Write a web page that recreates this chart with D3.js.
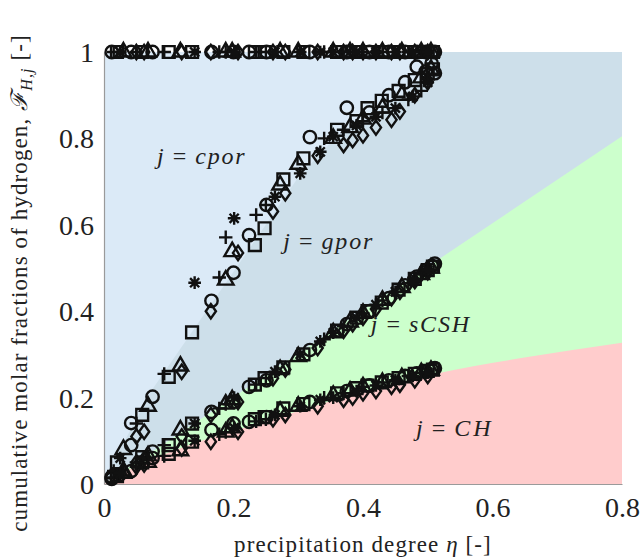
<!DOCTYPE html>
<html><head><meta charset="utf-8">
<script src="https://cdn.jsdelivr.net/npm/d3@7"></script>
<style>
html,body{margin:0;padding:0;background:#fff;}
svg{display:block;}
text{font-family:"Liberation Serif","DejaVu Serif",serif;fill:#222;}
</style></head>
<body>
<div id="chart"></div>
<script>
// ---- data ----
const xTicks = [0, 0.2, 0.4, 0.6, 0.8];
const xTickLabels = ["0", "0.2", "0.4", "0.6", "0.8"];
const yTicks = [0, 0.2, 0.4, 0.6, 0.8, 1];
const yTickLabels = ["0", "0.2", "0.4", "0.6", "0.8", "1"];
const topValue = 1;

// region boundaries [eta, F]
const upperBoundary = [[0,0],[0.005,0.025],[0.075,0.22],[0.216,0.526],[0.3,0.71],[0.35,0.79],[0.42,0.86],[0.48,0.92],[0.515,1.0],[0.8,1.0]];
const middleBoundary = [[0,0],[0.8,0.805]];
const lowerBoundary = [[0,0],[0.05,0.042],[0.118,0.083],[0.247,0.144],[0.38,0.205],[0.514,0.256],[0.642,0.291],[0.8,0.327]];

// series: [eta, F_CH, F_CH+sCSH, F_CH+sCSH+gpor]
const circleData = [
 [0.012,0.012,0.014,0.017],[0.042,0.03,0.09,0.141],[0.075,0.06,0.075,0.202],[0.166,0.125,0.167,0.424],
 [0.2,0.14,0.19,0.489],[0.224,0.144,0.225,0.576],[0.251,0.155,0.24,0.646],[0.318,0.19,0.31,0.803],
 [0.375,0.215,0.37,0.871],[0.41,0.228,0.40,0.86],[0.44,0.24,0.43,0.90],[0.465,0.25,0.46,0.93],
 [0.483,0.256,0.48,0.966],[0.497,0.26,0.495,0.955],[0.506,0.265,0.505,0.974],[0.511,0.268,0.51,0.951]
];
const squareData = [
 [0.02,0.018,0.02,0.05],[0.059,0.05,0.062,0.16],[0.1,0.07,0.09,0.248],[0.136,0.098,0.14,0.351],
 [0.233,0.15,0.23,0.553],[0.248,0.155,0.245,0.592],[0.277,0.175,0.27,0.705],[0.308,0.185,0.30,0.754],
 [0.36,0.21,0.355,0.82],[0.39,0.222,0.385,0.84],[0.407,0.228,0.40,0.870],[0.429,0.235,0.42,0.887],
 [0.455,0.245,0.45,0.91],[0.48,0.255,0.475,0.935],[0.5,0.262,0.495,0.95],[0.508,0.265,0.503,0.96]
];
const triangleData = [
 [0.03,0.025,0.03,0.08],[0.068,0.05,0.065,0.18],[0.118,0.077,0.125,0.273],[0.188,0.12,0.185,0.472],
 [0.198,0.13,0.195,0.538],[0.272,0.168,0.265,0.692],[0.3,0.18,0.295,0.74],[0.354,0.205,0.35,0.80],
 [0.38,0.215,0.375,0.825],[0.4,0.225,0.395,0.845],[0.43,0.235,0.425,0.87],[0.46,0.246,0.455,0.90],
 [0.49,0.258,0.485,0.94],[0.505,0.263,0.50,0.96]
];
const diamondData = [
 [0.05,0.04,0.05,0.11],[0.062,0.045,0.058,0.121],[0.12,0.082,0.11,0.26],[0.165,0.098,0.16,0.40],
 [0.207,0.121,0.19,0.535],[0.261,0.15,0.245,0.631],[0.28,0.16,0.265,0.673],[0.33,0.18,0.315,0.76],
 [0.37,0.195,0.355,0.785],[0.384,0.2,0.37,0.796],[0.40,0.21,0.385,0.807],[0.42,0.215,0.405,0.825],
 [0.444,0.225,0.43,0.843],[0.457,0.23,0.445,0.862],[0.48,0.24,0.47,0.90],[0.5,0.25,0.49,0.93]
];
const plusData = [
 [0.015,0.013,0.015,0.03],[0.05,0.04,0.05,0.14],[0.093,0.065,0.09,0.255],[0.178,0.115,0.175,0.478],
 [0.188,0.12,0.185,0.571],[0.235,0.145,0.23,0.623],[0.25,0.15,0.245,0.646],[0.34,0.2,0.335,0.80],
 [0.37,0.21,0.365,0.82],[0.4,0.225,0.395,0.84],[0.43,0.235,0.425,0.86],[0.47,0.25,0.465,0.89],
 [0.49,0.257,0.485,0.91]
];
const starData = [
 [0.025,0.02,0.025,0.06],[0.14,0.1,0.14,0.466],[0.201,0.13,0.2,0.615],[0.264,0.16,0.26,0.665],
 [0.303,0.18,0.3,0.719],[0.334,0.195,0.33,0.769],[0.354,0.2,0.35,0.804],[0.39,0.215,0.385,0.83],
 [0.42,0.228,0.415,0.85],[0.45,0.24,0.445,0.87],[0.477,0.25,0.47,0.897],[0.5,0.258,0.495,0.93]
];

const regionLabels = [
 {j:"cpor", x:0.082, y:0.74},
 {j:"gpor", x:0.277, y:0.543},
 {j:"sCSH", x:0.412, y:0.352},
 {j:"CH", x:0.482, y:0.11}
];

// ---- drawing ----
const W = 642, H = 558;
const svg = d3.select("#chart").append("svg").attr("width", W).attr("height", H);
const x = d3.scaleLinear().domain([0, 0.8]).range([104, 622]);
const y = d3.scaleLinear().domain([0, 1]).range([484, 52]);

const area = d3.area().x(d => x(d[0])).y0(y(0)).y1(d => y(d[1]));
svg.append("path").attr("d", area([[0,1],[0.8,1]])).attr("fill", "#dbeaf7");
svg.append("path").attr("d", area(upperBoundary)).attr("fill", "#cddfea");
svg.append("path").attr("d", area(middleBoundary)).attr("fill", "#ccffcc");
svg.append("path").attr("d", area.curve(d3.curveMonotoneX)(lowerBoundary)).attr("fill", "#ffcccc");

// axes
const fs = 28;
const ax = svg.append("g").attr("transform", `translate(0,${y(0)})`)
  .call(d3.axisBottom(x).tickValues(xTicks).tickFormat((d,i) => xTickLabels[i]).tickSize(0).tickPadding(13));
const ay = svg.append("g").attr("transform", `translate(${x(0)},0)`)
  .call(d3.axisLeft(y).tickValues(yTicks).tickFormat((d,i) => yTickLabels[i]).tickSize(0).tickPadding(10));
[ax, ay].forEach(g => {
  g.select(".domain").attr("stroke", "#9a9a9a").attr("stroke-width", 1.2);
  g.selectAll("text").attr("font-size", fs).attr("font-family", '"Liberation Serif",serif').attr("fill", "#222");
});
ay.selectAll("text").attr("dy", "0.34em");

// markers
const R = 6.2;
const plusSym = { draw(ctx, size) { const r = Math.sqrt(size) / 2; ctx.moveTo(-r,0); ctx.lineTo(r,0); ctx.moveTo(0,-r); ctx.lineTo(0,r); } };
const starSym = { draw(ctx, size) { const r = Math.sqrt(size) / 2; const d = r*0.72;
  ctx.moveTo(-r,0); ctx.lineTo(r,0); ctx.moveTo(0,-r); ctx.lineTo(0,r);
  ctx.moveTo(-d,-d); ctx.lineTo(d,d); ctx.moveTo(-d,d); ctx.lineTo(d,-d); } };
const diamondSym = { draw(ctx, size) { const w = Math.sqrt(size)/2*0.78, h = Math.sqrt(size)/2*1.1;
  ctx.moveTo(0,-h); ctx.lineTo(w,0); ctx.lineTo(0,h); ctx.lineTo(-w,0); ctx.closePath(); } };
const series = [
  {data: circleData, sym: d3.symbol(d3.symbolCircle, Math.PI*R*R)},
  {data: squareData, sym: d3.symbol(d3.symbolSquare, 140)},
  {data: triangleData, sym: d3.symbol(d3.symbolTriangle, 105)},
  {data: diamondData, sym: d3.symbol(diamondSym, 170)},
  {data: plusData, sym: d3.symbol(plusSym, 180)},
  {data: starData, sym: d3.symbol(starSym, 160)}
];
const mg = svg.append("g");
series.forEach(s => {
  [1,2,3].forEach(k => {
    mg.append("g").selectAll("path").data(s.data).join("path")
      .attr("d", s.sym)
      .attr("transform", d => `translate(${x(d[0])},${y(d[k])})`)
      .attr("fill", "none").attr("stroke", "#111").attr("stroke-width", 2.4);
  });
  mg.append("g").selectAll("path").data(s.data).join("path")
    .attr("d", s.sym)
    .attr("transform", d => `translate(${x(d[0])},${y(topValue)})`)
    .attr("fill", "none").attr("stroke", "#111").attr("stroke-width", 2.4);
});

// region labels
regionLabels.forEach(r => {
  const t = svg.append("text").attr("x", x(r.x)).attr("y", y(r.y)).attr("font-size", 24);
  t.append("tspan").attr("font-style", "italic").text("j");
  t.append("tspan").attr("dx", 9).text("=");
  t.append("tspan").attr("dx", 9).attr("font-style", "italic").attr("letter-spacing", r.j.length > 2 ? 1.8 : 3).text(r.j);
});

// axis titles
svg.append("text").attr("x", 363).attr("y", 552).attr("text-anchor", "middle").attr("font-size", 23).attr("letter-spacing", 1.1)
  .call(t => { t.append("tspan").text("precipitation degree "); t.append("tspan").attr("font-style","italic").text("η"); t.append("tspan").text(" [-]"); });
const yt = svg.append("text").attr("transform", "translate(27,283) rotate(-90)").attr("text-anchor", "middle").attr("font-size", 23).attr("letter-spacing", 1.1);
yt.append("tspan").text("cumulative molar fractions of hydrogen, ");
yt.append("tspan").attr("font-style","italic").text("ℱ");
yt.append("tspan").attr("font-style","italic").attr("font-size", 16).attr("dy", 5).text("H,j");
yt.append("tspan").attr("dy", -5).text(" [-]");
</script>
</body></html>
